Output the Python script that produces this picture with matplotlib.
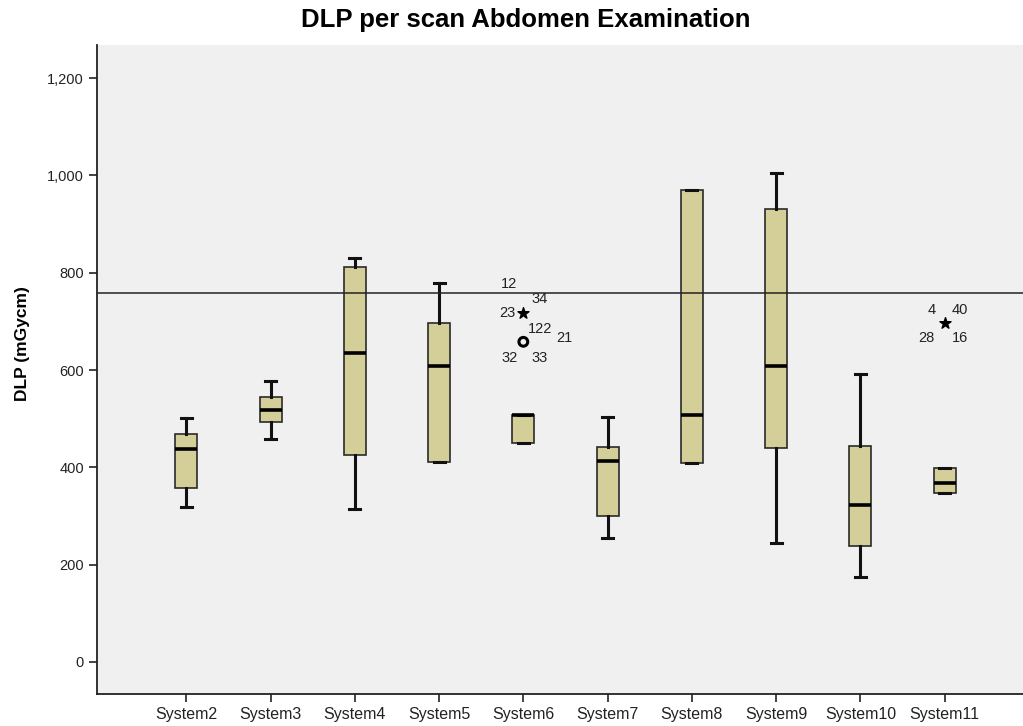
import matplotlib
matplotlib.use('Agg')
import matplotlib.pyplot as plt
from matplotlib.ticker import FuncFormatter

plt.rcParams['font.family'] = ['Liberation Sans', 'DejaVu Sans']

# %%
# box summaries (mGycm)
systems = ['System2', 'System3', 'System4', 'System5', 'System6',
           'System7', 'System8', 'System9', 'System10', 'System11']
whislo = [318, 458, 314, 411, 451, 254, 409, 244, 174, 347]
q1 = [357, 493, 425, 411, 451, 300, 409, 439, 239, 347]
med = [438, 518, 636, 609, 507, 413, 507, 609, 322, 367]
q3 = [468, 544, 811, 697, 507, 442, 970, 930, 444, 398]
whishi = [501, 578, 831, 779, 507, 503, 970, 1005, 592, 398]

ref_level = 759

# outliers: (system index, value, case labels with pixel offsets)
extreme_sys = [4, 9]
extreme_val = [718, 696]
outlier_sys = [4]
outlier_val = [658]
point_labels = [
    (4, 718, '23', (-16, 0)), (4, 718, '34', (16, 14)), (4, 718, '12', (-14, 29)),
    (4, 658, '122', (17, 13)), (4, 658, '21', (41, 4)),
    (4, 658, '32', (-14, -16)), (4, 658, '33', (16, -16)),
    (9, 696, '4', (-13, 13)), (9, 696, '40', (15, 13)),
    (9, 696, '28', (-18, -15)), (9, 696, '16', (15, -15)),
]

# %%
stats = []
for i, name in enumerate(systems):
    stats.append({'label': name, 'whislo': whislo[i], 'q1': q1[i], 'med': med[i],
                  'q3': q3[i], 'whishi': whishi[i], 'fliers': []})

fig = plt.figure(figsize=(10.23, 7.26), dpi=100)
fig.patch.set_facecolor('white')
ax = fig.add_axes([0.0948, 0.044, 0.906, 0.894])
ax.set_facecolor('#f0f0f0')

pos = list(range(len(systems)))
ax.bxp(stats, positions=pos, widths=0.26, patch_artist=True, showfliers=False,
       boxprops=dict(facecolor='#d4cf98', edgecolor='#2a2a2a', linewidth=1.2),
       medianprops=dict(color='black', linewidth=2.6),
       whiskerprops=dict(color='#111111', linewidth=2.2),
       capprops=dict(color='#111111', linewidth=2.2), capwidths=0.13)

ax.axhline(ref_level, color='#222222', linewidth=1.1)

ax.scatter(extreme_sys, extreme_val, marker='*', s=70, color='black', zorder=5)
ax.scatter(outlier_sys, outlier_val, marker='o', s=40, facecolor='none',
           edgecolor='black', linewidth=2.2, zorder=5)
for s, v, txt, off in point_labels:
    ax.annotate(txt, (s, v), xytext=off, textcoords='offset pixels',
                ha='center', va='center', fontsize=10.5, color='#222222')

ax.set_xlim(-1.06, 9.94)
ax.set_ylim(-66, 1268)
ax.set_yticks(range(0, 1201, 200))
ax.yaxis.set_major_formatter(FuncFormatter(lambda v, p: f'{int(v):,}'))
ax.set_xticks(pos)
ax.set_xticklabels(systems)
ax.tick_params(axis='both', direction='out', length=6, width=1.2,
               labelsize=10.5, colors='#222222')
ax.tick_params(axis='x', pad=3, labelsize=11.5)

for side in ['top', 'right']:
    ax.spines[side].set_visible(False)
for side in ['left', 'bottom']:
    ax.spines[side].set_linewidth(1.3)
    ax.spines[side].set_color('#222222')

ax.set_ylabel('DLP (mGycm)', fontsize=12.5, fontweight='bold')
ax.yaxis.set_label_coords(-0.072, 0.54)
fig.text(0.514, 0.972, 'DLP per scan Abdomen Examination', ha='center', va='center',
         fontsize=18.5, fontweight='bold')

fig.savefig('out.png', dpi=100)
